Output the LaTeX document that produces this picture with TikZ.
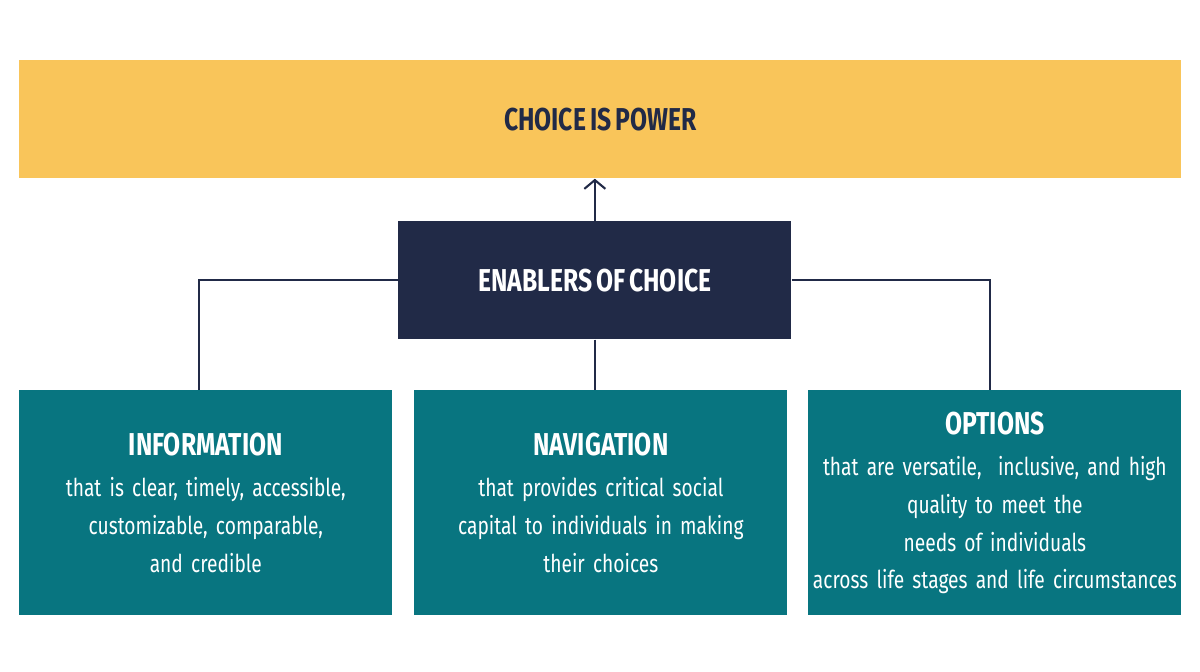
\documentclass[tikz,border=0pt]{standalone}
\usepackage{fontspec}
\setmainfont{Fira Sans}[FakeStretch=0.78,WordSpace=0.7]
\usetikzlibrary{positioning,arrows.meta}
\definecolor{gold}{HTML}{F9C55A}
\definecolor{navy}{HTML}{212A47}
\definecolor{teal}{HTML}{087580}
\tikzset{
  pillar/.style={fill=teal, text=white, minimum width=7.46cm, minimum height=4.5cm, anchor=north west, align=center, font=\fontsize{14}{21.5}\selectfont, text width=7.3cm, inner sep=0pt},
  link/.style={navy, line width=1.2pt}
}
\begin{document}
\begin{tikzpicture}
    \useasboundingbox (0,0) rectangle (24,13.42);
    % Top banner
    \node[fill=gold, minimum width=23.24cm, minimum height=2.36cm, anchor=north west, inner sep=0pt,
          font=\fontsize{18}{20}\selectfont\bfseries, text=navy] (power) at (0.38,12.22) {CHOICE IS POWER};
    % Enablers box
    \node[fill=navy, minimum width=7.86cm, minimum height=2.36cm, anchor=north west, inner sep=0pt,
          font=\fontsize{18}{20}\selectfont\bfseries, text=white] (enablers) at (7.96,9.0) {ENABLERS OF CHOICE};
    % Three pillars
    \node[pillar] (info) at (0.38,5.62) {{\fontsize{18}{24}\selectfont\bfseries INFORMATION}\\[2pt]
        that is clear, timely, accessible,\\ customizable, comparable,\\ and credible\\[16pt]};
    \node[pillar] (nav) at (8.28,5.62) {{\fontsize{18}{24}\selectfont\bfseries NAVIGATION}\\[2pt]
        that provides critical social\\ capital to individuals in making\\ their choices\\[16pt]};
    \node[pillar] (opt) at (16.16,5.62) {{\fontsize{18}{24}\selectfont\bfseries OPTIONS}\\[2pt]
        that are versatile,\ \ inclusive, and high\\ quality to meet the needs of individuals\\ across life stages and life circumstances\\[16pt]};
    % Connector ends
    \coordinate (infotop) at (3.98,5.62);
    \coordinate (opttop) at (19.8,5.62);
    % Connectors
    \draw[link, -{Straight Barb[length=5pt,width=12pt]}] (enablers.north) -- (enablers.north |- power.south);
    \draw[link] (enablers.west) -| (infotop);
    \draw[link] (enablers.east) -| (opttop);
    \draw[link] (enablers.south) -- (enablers.south |- nav.north);
\end{tikzpicture}
\end{document}
